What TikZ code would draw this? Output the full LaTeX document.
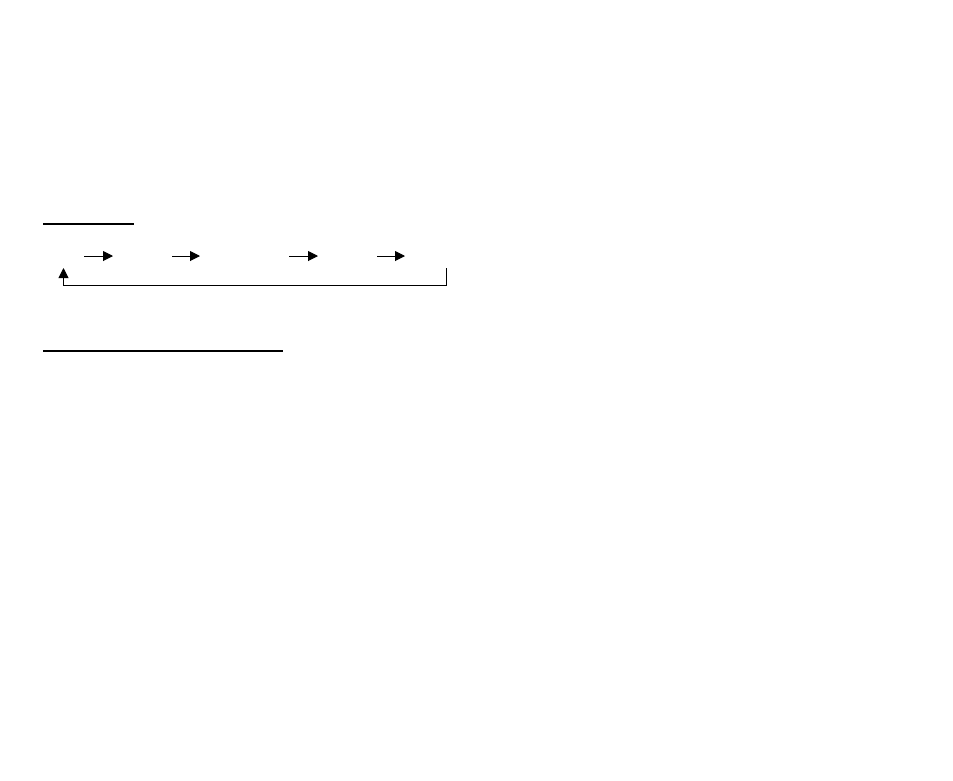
\documentclass[tikz,border=0pt]{standalone}
\usetikzlibrary{arrows.meta}
\begin{document}
\begin{tikzpicture}[x=1pt,y=-1pt,
  uline/.style={line width=2pt},
  flow/.style={line width=1pt,-{Triangle[length=10pt,width=10pt]}},
  back/.style={line width=1pt}]
\useasboundingbox (0,0) rectangle (953,780);
% underlines
\coordinate (u1a) at (43,224); \coordinate (u1b) at (134,224);
\coordinate (u2a) at (43,351); \coordinate (u2b) at (283,351);
\draw[uline] (u1a) -- (u1b);
\draw[uline] (u2a) -- (u2b);
% flow arrows
\coordinate (a1s) at (84,256); \coordinate (a1e) at (113,256);
\coordinate (a2s) at (172,256); \coordinate (a2e) at (200,256);
\coordinate (a3s) at (289,256); \coordinate (a3e) at (318,256);
\coordinate (a4s) at (377,256); \coordinate (a4e) at (405,256);
\draw[flow] (a1s) -- (a1e);
\draw[flow] (a2s) -- (a2e);
\draw[flow] (a3s) -- (a3e);
\draw[flow] (a4s) -- (a4e);
% feedback loop
\coordinate (fbs) at (446,268);
\coordinate (fbe) at (63.5,268);
\draw[flow] (fbs) -- (446,285.5) -- (63.5,285.5) -- (fbe);
\end{tikzpicture}
\end{document}
